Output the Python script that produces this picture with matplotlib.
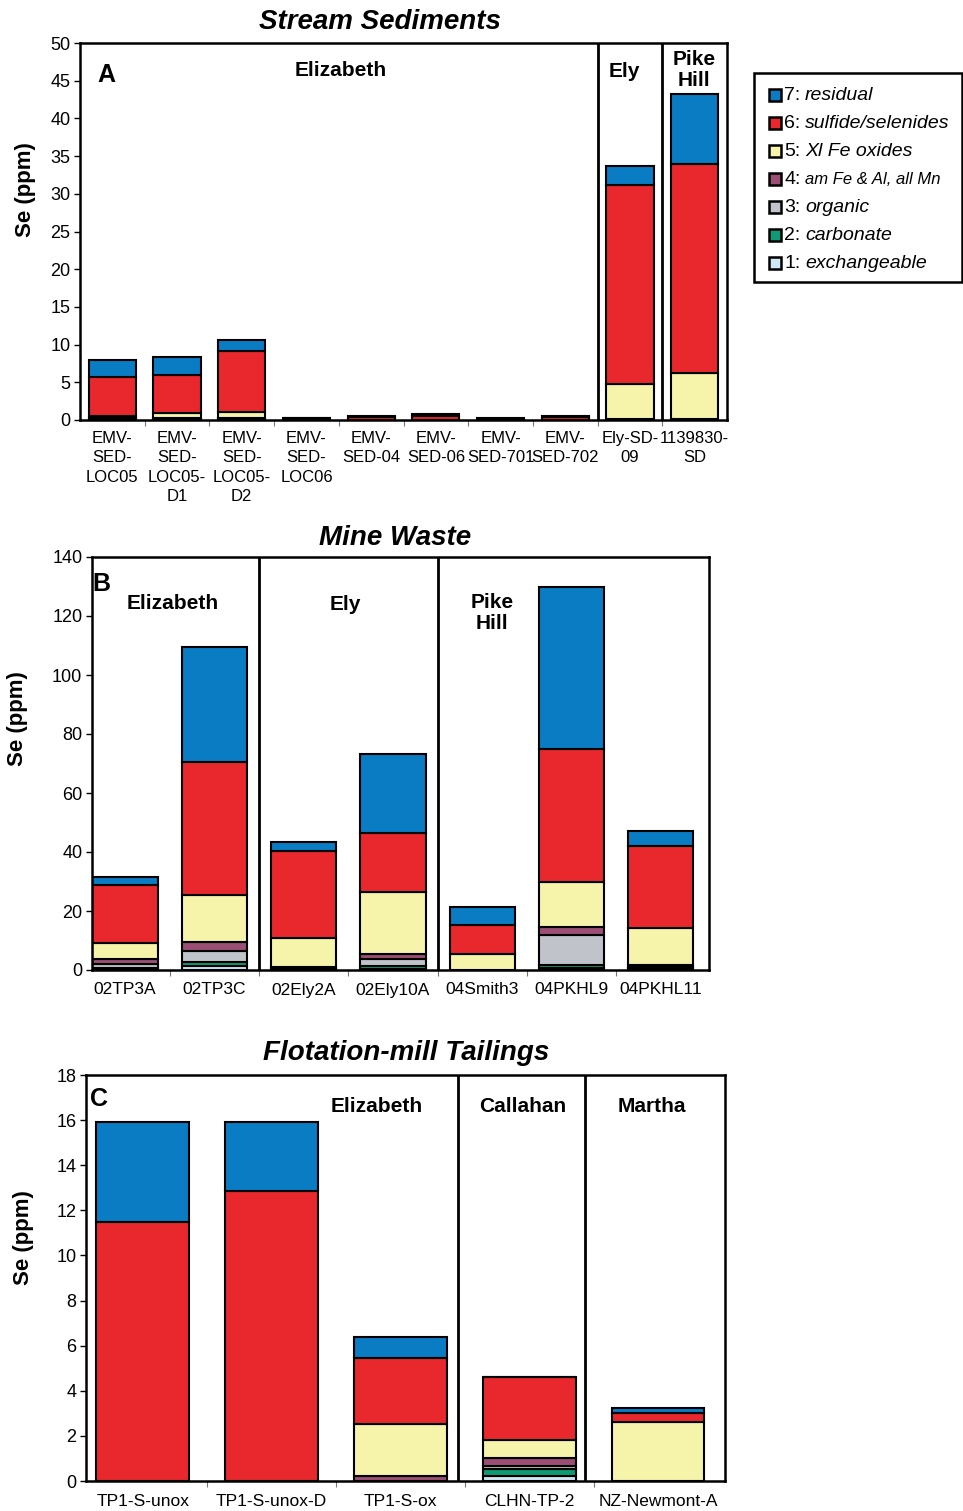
import matplotlib

matplotlib.use("Agg")
import matplotlib.pyplot as plt
from matplotlib.lines import Line2D
from matplotlib.patches import Rectangle

plt.rcParams["font.family"] = ["Liberation Sans", "DejaVu Sans"]

# fractions, bottom (1) to top (7)
fraction_nums = ["1", "2", "3", "4", "5", "6", "7"]
fraction_names = ["exchangeable", "carbonate", "organic", "am Fe & Al, all Mn",
                  "Xl Fe oxides", "sulfide/selenides", "residual"]
fraction_colors = ["#cfe9f6", "#0d9b75", "#c0c3c9", "#9b4f74",
                   "#f6f3ab", "#e8282c", "#0a7cc4"]

# A: stream sediments
sed_samples = ["EMV-\nSED-\nLOC05", "EMV-\nSED-\nLOC05-\nD1", "EMV-\nSED-\nLOC05-\nD2",
               "EMV-\nSED-\nLOC06", "EMV-\nSED-04", "EMV-\nSED-06", "EMV-\nSED-701",
               "EMV-\nSED-702", "Ely-SD-\n09", "1139830-\nSD"]
sed_values = [
    [0.05, 0.05, 0.1, 0.1, 0.25, 5.2, 2.25],
    [0.05, 0.05, 0.1, 0.1, 0.6, 5.05, 2.4],
    [0.05, 0.05, 0.1, 0.1, 0.75, 8.1, 1.45],
    [0, 0, 0, 0, 0.05, 0.15, 0.1],
    [0, 0, 0, 0, 0.05, 0.4, 0.05],
    [0, 0, 0, 0, 0.05, 0.5, 0.25],
    [0, 0, 0, 0, 0.02, 0.1, 0.08],
    [0, 0, 0, 0, 0.05, 0.3, 0.2],
    [0.02, 0.02, 0.03, 0.03, 4.7, 26.4, 2.5],
    [0.02, 0.02, 0.03, 0.03, 6.1, 27.8, 9.2],
]

# B: mine waste
waste_samples = ["02TP3A", "02TP3C", "02Ely2A", "02Ely10A", "04Smith3", "04PKHL9", "04PKHL11"]
waste_values = [
    [0.4, 0.3, 1.3, 1.6, 5.65, 19.55, 2.7],
    [1.4, 1.2, 3.7, 3.2, 16.0, 45.0, 39.0],
    [0.1, 0.2, 0.4, 0.4, 9.7, 29.5, 3.1],
    [0.5, 0.9, 2.2, 1.7, 21.1, 20.0, 26.8],
    [0, 0, 0, 0, 5.3, 10.0, 6.2],
    [0.8, 1.0, 10.2, 2.6, 15.2, 45.2, 54.8],
    [0.3, 0.3, 0.5, 0.6, 12.5, 27.8, 5.1],
]

# C: flotation-mill tailings
tail_samples = ["TP1-S-unox", "TP1-S-unox-D", "TP1-S-ox", "CLHN-TP-2", "NZ-Newmont-A"]
tail_values = [
    [0, 0, 0, 0, 0, 11.5, 4.4],
    [0, 0, 0, 0, 0, 12.85, 3.05],
    [0, 0, 0, 0.22, 2.3, 2.95, 0.9],
    [0.2, 0.35, 0.1, 0.35, 0.8, 2.8, 0],
    [0, 0, 0, 0, 2.6, 0.4, 0.25],
]


def draw_panel(ax, samples, values, width, ymax, ystep, xlim):
    x = list(range(len(samples)))
    bottoms = [0.0] * len(samples)
    for k in range(len(fraction_nums)):
        h = [row[k] for row in values]
        ax.bar(x, h, width, bottom=bottoms, color=fraction_colors[k],
               edgecolor="black", linewidth=1.5, zorder=2)
        bottoms = [b + v for b, v in zip(bottoms, h)]
    ax.set_xlim(*xlim)
    ax.set_ylim(0, ymax)
    ax.set_yticks(range(0, ymax + 1, ystep))
    ax.set_xticks(x)
    ax.set_xticklabels(samples, linespacing=1.35)
    ax.set_xticks([i + 0.5 for i in x[:-1]], minor=True)
    ax.tick_params(axis="x", which="major", length=0, labelsize=12.5, pad=9)
    ax.tick_params(axis="x", which="minor", length=4, width=0.8, color="#777777")
    ax.tick_params(axis="y", length=4, width=1, labelsize=13, pad=3)
    for s in ax.spines.values():
        s.set_linewidth(1.8)
    ax.set_ylabel("Se (ppm)", fontsize=16, fontweight="bold")


fig = plt.figure(figsize=(9.63, 15.11), dpi=100)
W, H = 963, 1511


def add_axes(l, t, r, b):
    return fig.add_axes([l / W, 1 - b / H, (r - l) / W, (b - t) / H])


lbl = dict(fontsize=15, fontweight="bold", ha="center", va="center", linespacing=1.1)

# panel A
axA = add_axes(80, 43, 727, 420)
draw_panel(axA, sed_samples, sed_values, 0.73, 50, 5, (-0.5, 9.5))
axA.tick_params(axis="x", which="major", labelsize=12, pad=8)
for xd in [7.5, 8.5]:
    axA.axvline(xd, color="black", linewidth=2, zorder=3)
axA.text(0.04, 0.915, "A", transform=axA.transAxes, fontsize=18, fontweight="bold", va="center", ha="center")
axA.text(3.53, 46.3, "Elizabeth", **lbl)
axA.text(7.92, 46.2, "Ely", **lbl)
axA.text(8.99, 46.4, "Pike\nHill", **lbl)
fig.text(380 / W, 1 - 22 / H, "Stream Sediments", fontsize=20, fontweight="bold",
         style="italic", ha="center", va="center")
axA.yaxis.set_label_coords(-0.068, 0.61)

# panel B
axB = add_axes(92, 557, 709, 970)
draw_panel(axB, waste_samples, waste_values, 0.73, 140, 20, (-0.37, 6.54))
for xd in [1.5, 3.5]:
    axB.axvline(xd, color="black", linewidth=2, zorder=3)
axB.text(0.016, 0.935, "B", transform=axB.transAxes, fontsize=18, fontweight="bold", va="center", ha="center")
axB.text(0.53, 124.4, "Elizabeth", **lbl)
axB.text(2.47, 124.0, "Ely", **lbl)
axB.text(4.11, 121.0, "Pike\nHill", **lbl)
fig.text(395 / W, 1 - 538 / H, "Mine Waste", fontsize=20, fontweight="bold",
         style="italic", ha="center", va="center")
axB.yaxis.set_label_coords(-0.104, 0.61)

# panel C
axC = add_axes(86, 1075, 725, 1481)
draw_panel(axC, tail_samples, tail_values, 0.72, 18, 2, (-0.44, 4.52))
for xd in [2.45, 3.43]:
    axC.axvline(xd, color="black", linewidth=2, zorder=3)
axC.text(0.021, 0.94, "C", transform=axC.transAxes, fontsize=18, fontweight="bold", va="center", ha="center")
axC.text(1.82, 16.6, "Elizabeth", **lbl)
axC.text(2.95, 16.6, "Callahan", **lbl)
axC.text(3.95, 16.6, "Martha", **lbl)
fig.text(406 / W, 1 - 1053 / H, "Flotation-mill Tailings", fontsize=20, fontweight="bold",
         style="italic", ha="center", va="center")
axC.yaxis.set_label_coords(-0.081, 0.60)

# legend box, drawn by hand so that the number stays upright and the name italic
fig.add_artist(Rectangle((754 / W, 1 - 282 / H), 208 / W, 209 / H, transform=fig.transFigure,
                         facecolor="white", edgecolor="black", linewidth=1.8))
row_y = 95
for k in range(len(fraction_nums) - 1, -1, -1):
    yf = 1 - row_y / H
    fig.add_artist(Line2D([775 / W], [yf], transform=fig.transFigure, linestyle="none",
                          marker="s", markersize=8, markerfacecolor=fraction_colors[k],
                          markeredgecolor="black", markeredgewidth=1.8))
    fig.text(784 / W, yf, fraction_nums[k] + ":", fontsize=14, ha="left", va="center")
    size = 12 if k == 3 else 14
    fig.text(805 / W, yf, fraction_names[k], fontsize=size, style="italic", ha="left", va="center")
    row_y += 28

fig.savefig("out.png", dpi=100)
